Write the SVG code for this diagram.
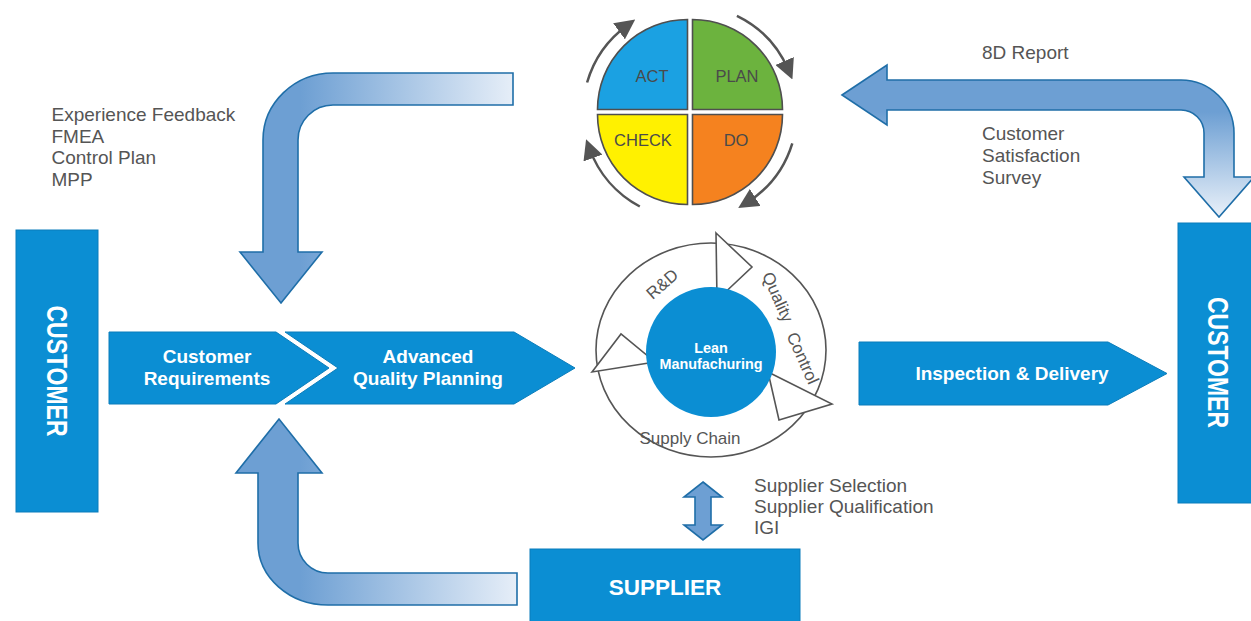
<svg xmlns="http://www.w3.org/2000/svg" width="1251" height="621" viewBox="0 0 1251 621">
<defs>
<style>
.lbl{font-family:"Liberation Sans",Arial,sans-serif;font-size:19px;fill:#555}
.wb{font-family:"Liberation Sans",Arial,sans-serif;font-weight:bold;fill:#fff;text-anchor:middle}
.box{fill:#0b8ed3;stroke:#0a7dbb;stroke-width:1}
.fb{stroke:#1f6ea8;stroke-width:1.6;stroke-linejoin:miter}
.pq{stroke:#4f4f4f;stroke-width:1.6}
.pt{font-family:"Liberation Sans",Arial,sans-serif;font-size:16.5px;fill:#4a4a4a;text-anchor:middle}
.ring{fill:#fff;stroke:#555;stroke-width:1.6;stroke-linejoin:miter}
.rt{font-family:"Liberation Sans",Arial,sans-serif;font-size:17px;fill:#555;text-anchor:middle}
.cyc{fill:none;stroke:#555;stroke-width:2.5}
</style>
<linearGradient id="gTL" gradientUnits="userSpaceOnUse" x1="300" y1="0" x2="513" y2="0"><stop offset="0" stop-color="#6d9fd3"/><stop offset="1" stop-color="#e6eef8"/></linearGradient>
<linearGradient id="gBL" gradientUnits="userSpaceOnUse" x1="300" y1="0" x2="517" y2="0"><stop offset="0" stop-color="#6d9fd3"/><stop offset="1" stop-color="#e6eef8"/></linearGradient>
<linearGradient id="gTR" gradientUnits="userSpaceOnUse" x1="0" y1="112" x2="0" y2="217"><stop offset="0" stop-color="#6d9fd3"/><stop offset="1" stop-color="#eaf1f9"/></linearGradient>
<marker id="ah" markerUnits="userSpaceOnUse" markerWidth="20" markerHeight="20" viewBox="0 0 10 10" refX="5" refY="5" orient="auto"><path d="M0,0 L10,5 L0,10 Z" fill="#555"/></marker>
</defs>
<rect width="1251" height="621" fill="#fff"/>

<g id="connectors">
<path id="feedback-top-left" class="fb" fill="url(#gTL)" d="M513,73 L333,73 A70,67 0 0 0 263,140 L263,252 L240,252 L281,303 L322,252 L298,252 L298,140 A35,35 0 0 1 333,105 L513,105 Z"/>
<path id="feedback-bottom-left" class="fb" fill="url(#gBL)" d="M517,573 L328,573 A30,30 0 0 1 298,543 L298,473 L322,473 L279,419 L236,473 L258,473 L258,543 A70,62 0 0 0 328,605 L517,605 Z"/>
<path id="feedback-top-right" class="fb" fill="url(#gTR)" d="M842,95 L887,65 L887,80 L1181,80 A53,53 0 0 1 1234,133 L1234,177 L1254,177 L1219,217 L1184,177 L1204,177 L1204,133 A23,23 0 0 0 1181,110 L887,110 L887,125 Z"/>
<path id="supplier-link" class="fb" fill="#6d9fd3" d="M703,482 L722,497 L711,497 L711,525 L722,525 L703,540 L684,525 L695,525 L695,497 L684,497 Z"/>
</g>

<g id="connector-labels">
<text class="lbl"><tspan x="51.5" y="121">Experience Feedback</tspan><tspan x="51.5" y="143">FMEA</tspan><tspan x="51.5" y="164">Control Plan</tspan><tspan x="51.5" y="186">MPP</tspan></text>
<text class="lbl" x="982" y="59">8D Report</text>
<text class="lbl"><tspan x="982" y="140">Customer</tspan><tspan x="982" y="162">Satisfaction</tspan><tspan x="982" y="183.5">Survey</tspan></text>
<text class="lbl"><tspan x="754" y="492">Supplier Selection</tspan><tspan x="754" y="513">Supplier Qualification</tspan><tspan x="754" y="534">IGI</tspan></text>
</g>

<g id="customer-left">
<rect class="box" x="16" y="230" width="82" height="282"/>
<text class="wb" transform="translate(57,371) rotate(90)" y="10" font-size="29" textLength="131" lengthAdjust="spacingAndGlyphs">CUSTOMER</text>
</g>

<g id="customer-right">
<rect class="box" x="1178" y="223" width="80" height="280"/>
<text class="wb" transform="translate(1218,362.5) rotate(90)" y="10" font-size="29" textLength="131" lengthAdjust="spacingAndGlyphs">CUSTOMER</text>
</g>

<g id="customer-requirements">
<polygon class="box" points="109,332 276,332 329,368 276,404 109,404"/>
<text class="wb" font-size="19"><tspan x="207" y="363">Customer</tspan><tspan x="207" y="385">Requirements</tspan></text>
</g>

<g id="advanced-quality-planning">
<polygon class="box" points="285,332 514,332 575,368 514,404 285,404 338,368"/>
<text class="wb" font-size="19"><tspan x="428" y="363">Advanced</tspan><tspan x="428" y="385">Quality Planning</tspan></text>
</g>

<g id="inspection-delivery">
<polygon class="box" points="859,342 1108,342 1167,373.5 1108,405 859,405"/>
<text class="wb" font-size="19" x="1012" y="380">Inspection &amp; Delivery</text>
</g>

<g id="supplier">
<rect class="box" x="530" y="549" width="270" height="80"/>
<text class="wb" font-size="22.5" x="665" y="595">SUPPLIER</text>
</g>

<g id="pdca">
<path class="pq" fill="#1ba1e2" d="M687.5,109.5 L597.5,109.5 A90,90 0 0 1 687.5,19.5 Z"/>
<path class="pq" fill="#6cb33e" d="M692.5,109.5 L692.5,19.5 A90,90 0 0 1 782.5,109.5 Z"/>
<path class="pq" fill="#f5821f" d="M692.5,114.5 L782.5,114.5 A90,90 0 0 1 692.5,204.5 Z"/>
<path class="pq" fill="#fff100" d="M687.5,114.5 L687.5,204.5 A90,90 0 0 1 597.5,114.5 Z"/>
<text class="pt" x="652" y="82">ACT</text>
<text class="pt" x="737" y="82">PLAN</text>
<text class="pt" x="643" y="146">CHECK</text>
<text class="pt" x="736" y="146">DO</text>
<path class="cyc" marker-end="url(#ah)" d="M587.1,82.5 A107,107 0 0 1 627.1,25.4"/>
<path class="cyc" marker-end="url(#ah)" d="M736.9,15.8 A107,107 0 0 1 788.5,70.2"/>
<path class="cyc" marker-end="url(#ah)" d="M792.3,143.3 A107,107 0 0 1 746.7,202.7"/>
<path class="cyc" marker-end="url(#ah)" d="M639.8,206.5 A107,107 0 0 1 589.5,148.6"/>
</g>

<g id="lean-cycle">
<ellipse class="ring" cx="711" cy="350" rx="115" ry="107"/>
<polygon class="ring" points="716,233 752,267 717,300"/>
<polygon class="ring" points="768,372 832,404 779,420"/>
<polygon class="ring" points="592,372 621,334 655,362"/>
<text class="rt" transform="translate(662,284) rotate(-41)" y="6">R&amp;D</text>
<text class="rt" transform="translate(778,297) rotate(66)" y="6">Quality</text>
<text class="rt" transform="translate(803,358) rotate(66)" y="6">Control</text>
<text class="rt" x="690" y="444">Supply Chain</text>
<circle cx="711" cy="352" r="65" fill="#0b8ed3"/>
<text class="wb" font-size="14.4"><tspan x="711" y="353">Lean</tspan><tspan x="711" y="369">Manufachuring</tspan></text>
</g>
</svg>
